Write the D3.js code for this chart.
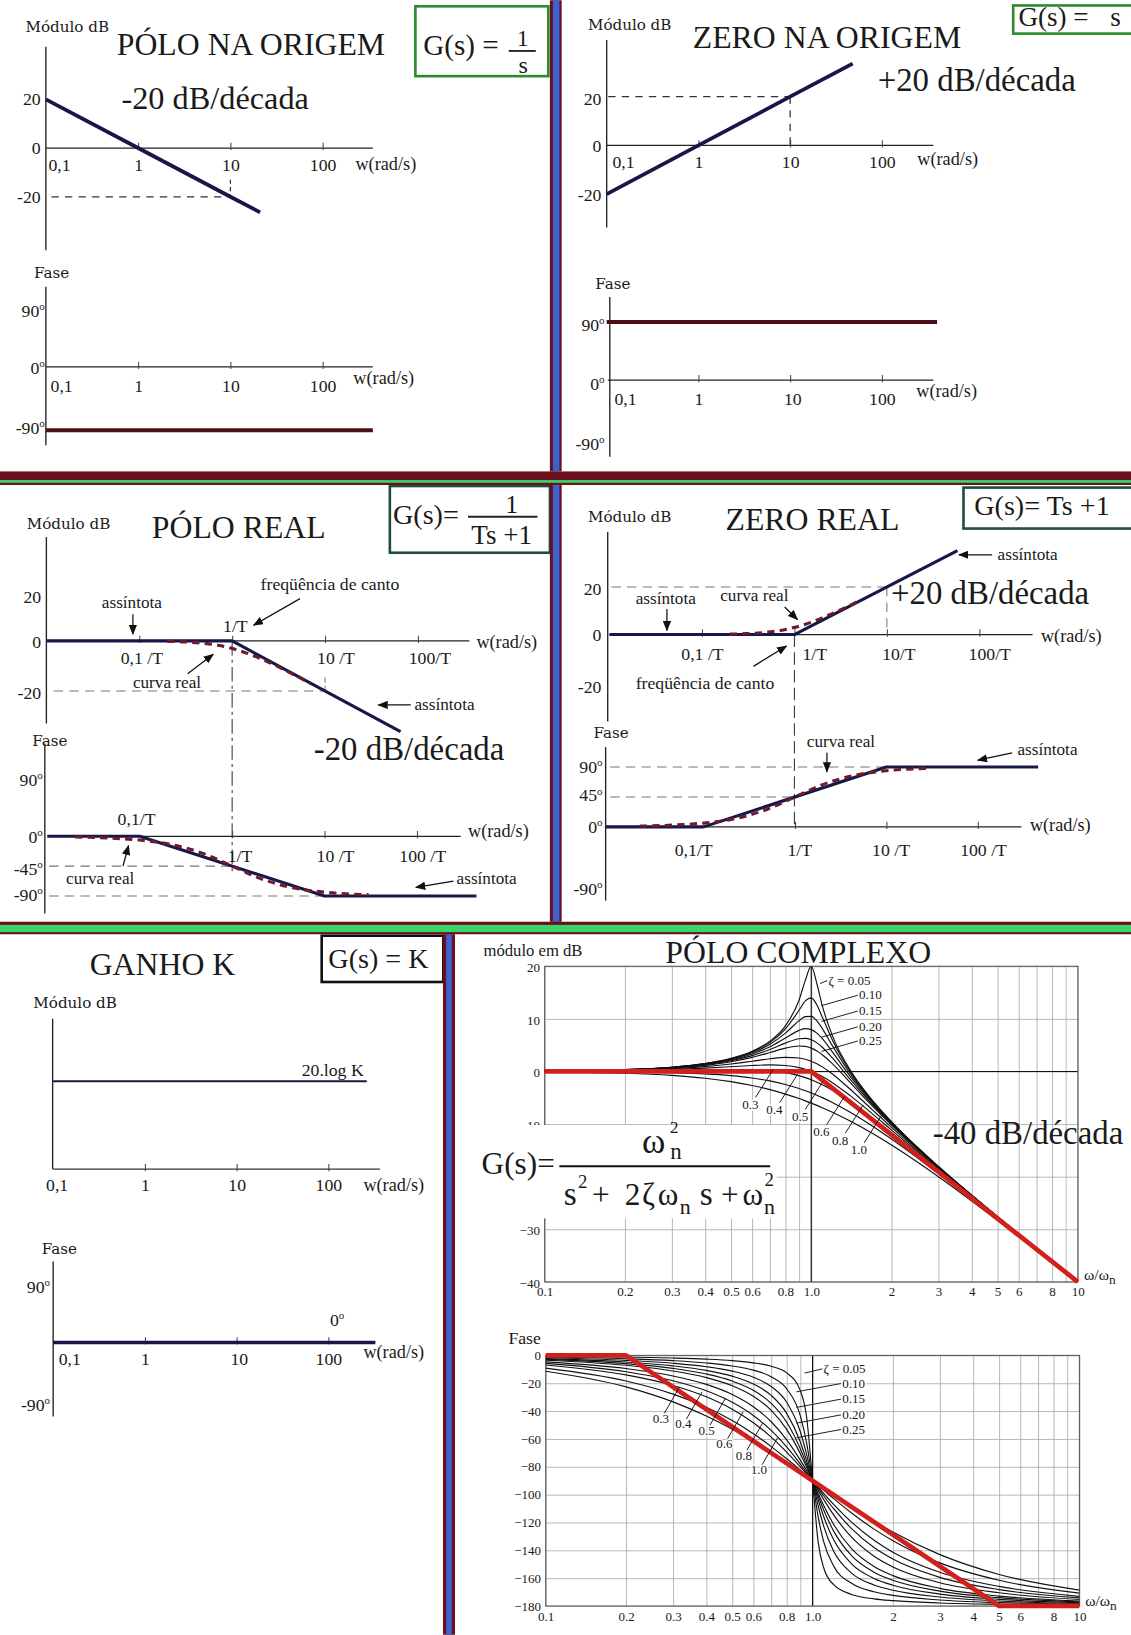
<!DOCTYPE html>
<html lang="pt">
<head>
<meta charset="utf-8">
<title>Diagramas de Bode – fatores básicos</title>
<script src="https://cdn.jsdelivr.net/npm/d3@7/dist/d3.min.js"></script>
<style>
  html, body { margin: 0; padding: 0; background: #fff; }
  svg { display: block; }
  text { font-family: "Liberation Serif", "Times New Roman", serif; fill: #1a1a1a; }
  text.sm { font-family: "DejaVu Serif", serif; }
</style>
</head>
<body>
<svg id="bode"></svg>
<script>
// ================= data =================
const decades = [0.1, 1, 10, 100];
const decadeLabels = ["0,1", "1", "10", "100"];

// pole at the origin, G(s) = 1/s
const poleOriginW = [0.1, 1, 10, 21];
const poleOriginDb = [20, 0, -20, -26.4];
const poleOriginPhaseW = [0.1, 350];
const poleOriginPhase = [-90, -90];

// zero at the origin, G(s) = s
const zeroOriginW = [0.1, 1, 10, 48];
const zeroOriginDb = [-20, 0, 20, 33.6];
const zeroOriginPhaseW = [0.1, 400];
const zeroOriginPhase = [90, 90];

// real pole, G(s) = 1/(Ts+1), frequency in units of 1/T
const realPoleAsymW = [0.01, 1, 65];
const realPoleAsymDb = [0, 0, -36.3];
const realPoleW = [0.2, 0.3, 0.5, 0.7, 1, 1.5, 2, 3, 5, 7];
const realPoleDb = [-0.17, -0.37, -0.97, -1.73, -3.01, -5.12, -6.99, -10, -14.15, -16.99];
const realPolePhAsymW = [0.01, 0.1, 10, 440];
const realPolePhAsym = [0, 0, -90, -90];
const realPhaseW = [0.02, 0.05, 0.1, 0.2, 0.5, 1, 2, 5, 10, 30];
const realPolePhase = [-1.15, -2.86, -5.71, -11.31, -26.57, -45, -63.43, -78.69, -84.29, -88.09];

// real zero, G(s) = Ts+1
const realZeroAsymW = [0.01, 1, 58];
const realZeroAsymDb = [0, 0, 35.27];
const realZeroW = [0.2, 0.3, 0.5, 0.7, 1, 1.5, 2, 3, 5];
const realZeroDb = [0.17, 0.37, 0.97, 1.73, 3.01, 5.12, 6.99, 10, 14.15];
const realZeroPhAsymW = [0.0085, 0.1, 10, 458];
const realZeroPhAsym = [0, 0, 90, 90];
const realZeroPhase = [1.15, 2.86, 5.71, 11.31, 26.57, 45, 63.43, 78.69, 84.29, 88.09];

// constant gain, G(s) = K (level in units of 20·log K)
const gainW = [0.1, 262];
const gainLevel = [1, 1];
const gainPhaseW = [0.1, 325];
const gainPhase = [0, 0];

// complex pole pair: frequency ratio ω/ωn and one curve per damping ratio
const ratio = [0.1, 0.2, 0.3, 0.4, 0.5, 0.6, 0.7, 0.8, 0.9, 0.95, 1.0, 1.05, 1.1, 1.2, 1.4, 1.7, 2, 3, 5, 10];
const zetas = [0.05, 0.10, 0.15, 0.20, 0.25, 0.3, 0.4, 0.5, 0.6, 0.8, 1.0];
const magDb = [
  [0.09, 0.35, 0.81, 1.50, 2.48, 3.84, 5.77, 8.67, 13.55, 17.32, 20.00, 16.67, 12.50, 6.82, 0.26, -5.56, -9.56, -18.07, -27.61, -39.91],
  [0.09, 0.35, 0.80, 1.48, 2.42, 3.73, 5.53, 8.09, 11.64, 13.41, 13.98, 12.63, 10.34, 6.00, 0.00, -5.67, -9.62, -18.09, -27.61, -39.91],
  [0.08, 0.34, 0.78, 1.43, 2.33, 3.55, 5.17, 7.28, 9.63, 10.42, 10.46, 9.60, 8.15, 4.91, -0.41, -5.83, -9.71, -18.12, -27.62, -39.92],
  [0.08, 0.32, 0.74, 1.36, 2.20, 3.31, 4.70, 6.35, 7.81, 8.13, 7.96, 7.28, 6.24, 3.73, -0.92, -6.06, -9.84, -18.16, -27.63, -39.92],
  [0.08, 0.31, 0.70, 1.28, 2.04, 3.01, 4.17, 5.38, 6.22, 6.29, 6.02, 5.43, 4.60, 2.57, -1.50, -6.33, -10.00, -18.21, -27.65, -39.92],
  [0.07, 0.29, 0.65, 1.17, 1.85, 2.68, 3.60, 4.44, 4.85, 4.76, 4.44, 3.90, 3.19, 1.48, -2.11, -6.64, -10.19, -18.28, -27.67, -39.93],
  [0.06, 0.24, 0.53, 0.93, 1.41, 1.94, 2.41, 2.68, 2.56, 2.31, 1.94, 1.45, 0.87, -0.47, -3.38, -7.34, -10.63, -18.44, -27.72, -39.94],
  [0.04, 0.17, 0.37, 0.63, 0.90, 1.14, 1.25, 1.14, 0.73, 0.40, 0.00, -0.46, -0.98, -2.13, -4.60, -8.10, -11.14, -18.63, -27.79, -39.96],
  [0.02, 0.09, 0.19, 0.29, 0.35, 0.33, 0.15, -0.22, -0.80, -1.17, -1.58, -2.04, -2.52, -3.56, -5.73, -8.88, -11.69, -18.86, -27.87, -39.98],
  [-0.02, -0.10, -0.25, -0.47, -0.80, -1.24, -1.80, -2.48, -3.24, -3.66, -4.08, -4.52, -4.97, -5.89, -7.74, -10.40, -12.84, -19.40, -28.06, -40.03],
  [-0.09, -0.34, -0.75, -1.29, -1.94, -2.67, -3.46, -4.30, -5.15, -5.59, -6.02, -6.45, -6.89, -7.75, -9.43, -11.80, -13.98, -20.00, -28.30, -40.09]
];
const phaseDeg = [
  [-0.58, -1.19, -1.89, -2.73, -3.81, -5.36, -7.82, -12.53, -25.35, -44.26, -90, -134.31, -152.35, -164.74, -171.70, -174.86, -176.19, -177.85, -178.81, -179.42],
  [-1.16, -2.39, -3.77, -5.44, -7.59, -10.62, -15.35, -23.96, -43.45, -62.84, -90, -116.02, -133.67, -151.39, -163.74, -169.80, -172.41, -175.71, -177.61, -178.84],
  [-1.74, -3.58, -5.65, -8.13, -11.31, -15.71, -22.38, -33.69, -54.87, -71.11, -90, -108.02, -122.47, -140.71, -156.37, -164.90, -168.69, -173.58, -176.42, -178.26],
  [-2.31, -4.76, -7.51, -10.78, -14.93, -20.56, -28.77, -41.63, -62.18, -75.61, -90, -103.71, -115.52, -132.51, -149.74, -160.21, -165.07, -171.47, -175.24, -177.69],
  [-2.89, -5.95, -9.36, -13.39, -18.43, -25.11, -34.46, -48.01, -67.11, -78.40, -90, -101.05, -110.90, -126.25, -143.90, -155.79, -161.57, -169.38, -174.05, -177.11],
  [-3.47, -7.13, -11.19, -15.95, -21.80, -29.36, -39.47, -53.13, -70.62, -80.29, -90, -99.24, -107.65, -121.43, -138.81, -151.64, -158.20, -167.32, -172.88, -176.53],
  [-4.62, -9.46, -14.77, -20.85, -28.07, -36.87, -47.68, -60.64, -75.22, -82.69, -90, -96.96, -103.42, -114.62, -130.60, -144.26, -151.93, -163.30, -170.54, -175.38],
  [-5.77, -11.77, -18.25, -25.46, -33.69, -43.15, -53.92, -65.77, -78.08, -84.14, -90, -95.58, -100.81, -110.14, -124.44, -138.03, -146.31, -159.44, -168.23, -174.23],
  [-6.91, -14.04, -21.59, -29.74, -38.66, -48.37, -58.73, -69.44, -80.02, -85.11, -90, -94.65, -99.04, -106.99, -119.74, -132.81, -141.34, -155.77, -165.96, -173.09],
  [-9.18, -18.43, -27.81, -37.30, -46.85, -56.31, -65.52, -74.29, -82.48, -86.33, -90, -93.49, -96.80, -102.91, -113.20, -124.79, -133.15, -149.04, -161.57, -170.82],
  [-11.42, -22.62, -33.40, -43.60, -53.13, -61.93, -70.00, -77.32, -83.97, -87.06, -90, -92.79, -95.45, -100.39, -108.92, -119.07, -126.87, -143.13, -157.38, -168.58]
];
const cpAsymMagW = [0.1, 1, 10];
const cpAsymMag = [0, 0, -40];
const cpAsymPhW = [0.1, 0.2, 5, 10];
const cpAsymPh = [0, 0, -180, -180];
const gridRatios = [0.1, 0.2, 0.3, 0.4, 0.5, 0.6, 0.7, 0.8, 0.9, 1, 2, 3, 4, 5, 6, 7, 8, 9, 10];
const ratioTicks = [0.1, 0.2, 0.3, 0.4, 0.5, 0.6, 0.8, 1, 2, 3, 4, 5, 6, 8, 10];
const ratioTickLabels = ["0.1", "0.2", "0.3", "0.4", "0.5", "0.6", "0.8", "1.0", "2", "3", "4", "5", "6", "8", "10"];
const magTicks = [20, 10, 0, -10, -20, -30, -40];
// the −20 dB label sits under the transfer-function patch, so it is left blank
const magTickLabels = ["20", "10", "0", "\u221210", "", "\u221230", "\u221240"];
const phaseTicks = [0, -20, -40, -60, -80, -100, -120, -140, -160, -180];
const phaseTickLabels = ["0", "\u221220", "\u221240", "\u221260", "\u221280", "\u2212100", "\u2212120", "\u2212140", "\u2212160", "\u2212180"];
// label anchors (ratio, value) for the damping-ratio annotations
const zetaTopMag = [[1.16, 16.5], [1.51, 13.7], [1.51, 10.7], [1.51, 7.7], [1.51, 5.0]];
const zetaLowMag = [[0.591, -7.1], [0.728, -8.1], [0.908, -9.4], [1.092, -12.3], [1.284, -13.9], [1.51, -15.75]];
const zetaTopPh = [[1.099, -12.7], [1.292, -23.2], [1.292, -34.4], [1.292, -45.7], [1.292, -56.2]];
const zetaLowPh = [[0.2702, -48.7], [0.3279, -52.4], [0.4014, -56.9], [0.4676, -66.6], [0.5525, -74.9], [0.6293, -85.4]];

// ================= drawing helpers =================
const W = 1085, H = 1568;
const svg = d3.select("#bode").attr("width", 1131).attr("height", 1635).attr("viewBox", `0 0 ${W} ${H}`);
svg.append("rect").attr("width", W).attr("height", H).attr("fill", "#fff");
const defs = svg.append("defs");
defs.append("marker").attr("id", "ah").attr("viewBox", "0 0 10 8").attr("refX", 9).attr("refY", 4)
  .attr("markerWidth", 10).attr("markerHeight", 8).attr("markerUnits", "userSpaceOnUse").attr("orient", "auto")
  .append("path").attr("d", "M0,0L10,4L0,8Z").attr("fill", "#111");

const NAVY = "#17174a", WINE = "#4b0f18", DASHRED = "#6e1a2a", INK = "#222", RED = "#d3201c";

function text(g, x, y, s, size, o = {}) {
  const t = g.append("text").attr("x", x).attr("y", y).attr("font-size", size).text(s);
  if (o.anchor) t.attr("text-anchor", o.anchor);
  if (o.cls) t.attr("class", o.cls);
  if (o.halo) t.attr("stroke", "#fff").attr("stroke-width", o.halo).attr("paint-order", "stroke");
  return t;
}
// one text element made of absolutely placed pieces: [string, x, y, size]
function pieces(g, parts) {
  const t = g.append("text");
  parts.forEach(p => t.append("tspan").attr("x", p[1]).attr("y", p[2]).attr("font-size", p[3]).text(p[0]));
  return t;
}
function seg(g, x1, y1, x2, y2, stroke, sw, dash) {
  return g.append("line").attr("x1", x1).attr("y1", y1).attr("x2", x2).attr("y2", y2)
    .attr("stroke", stroke).attr("stroke-width", sw).attr("stroke-dasharray", dash || null);
}
function arrow(g, x1, y1, x2, y2) {
  return seg(g, x1, y1, x2, y2, "#111", 1.2).attr("marker-end", "url(#ah)");
}
function rectBox(g, x, y, w, h, stroke, sw = 2.5) {
  return g.append("rect").attr("x", x).attr("y", y).attr("width", w).attr("height", h)
    .attr("fill", "#fff").attr("stroke", stroke).attr("stroke-width", sw);
}
function series(g, xs, ys, sx, sy, stroke, sw, o = {}) {
  const gen = d3.line().x(d => sx(d[0])).y(d => sy(d[1])).curve(o.curve || d3.curveLinear);
  return g.append("path").datum(xs.map((v, i) => [v, ys[i]])).attr("d", gen)
    .attr("fill", "none").attr("stroke", stroke).attr("stroke-width", sw)
    .attr("stroke-dasharray", o.dash || null).attr("stroke-linejoin", "round").attr("stroke-linecap", o.cap || "butt");
}
function xAxis(g, sx, y, o) {
  seg(g, sx(o.from), y, sx(o.to), y, o.stroke || INK, o.sw || 1.2);
  const ax = d3.axisBottom(sx).tickValues(o.ticks).tickFormat((d, i) => o.labels[i])
    .tickSizeInner(-(o.tick ?? 5)).tickSizeOuter(0).tickPadding(o.pad);
  const a = g.append("g").attr("transform", `translate(0,${y})`).call(ax);
  a.select(".domain").remove();
  a.attr("font-family", null).attr("font-size", o.size || 17);
  a.selectAll(".tick line").attr("y1", 2).attr("stroke", "#444").attr("stroke-width", 1);
  a.selectAll(".tick text").attr("dx", (d, i) => (o.dx ? o.dx[i] : 0));
  if (o.startFirst) a.selectAll(".tick text").filter((d, i) => i === 0).attr("text-anchor", "start");
  if (o.noTick) a.selectAll(".tick line").filter((d, i) => o.noTick.includes(i)).remove();
  return a;
}
function yLabels(g, sy, x, vals, labels, o = {}) {
  const ax = d3.axisLeft(sy).tickValues(vals).tickFormat((d, i) => labels[i]).tickSize(0).tickPadding(o.pad ?? 5);
  const a = g.append("g").attr("transform", `translate(${x},0)`).call(ax);
  a.select(".domain").remove();
  a.selectAll(".tick line").remove();
  a.selectAll(".tick").filter((d, i) => labels[i] === "").remove();
  a.attr("font-family", null).attr("font-size", o.size || 17);
  if (o.dy) a.selectAll(".tick text").attr("y", (d, i) => o.dy[i]);
  return a;
}
function degLabels(g, sy, xr, vals, dy, size = 17) {
  vals.forEach((v, i) => {
    const t = g.append("text").attr("x", xr).attr("y", sy(v) + dy[i] + size * 0.34)
      .attr("font-size", size).attr("text-anchor", "end");
    t.append("tspan").text(v > 0 ? String(v) : v < 0 ? "-" + Math.abs(v) : "0");
    t.append("tspan").text("o").attr("font-size", "0.62em").attr("dy", "-0.62em");
  });
}

// ================= pole at the origin =================
(function () {
  const g = svg.append("g");
  const x = d3.scaleLog().domain([0.1, 100]).range([44, 309.5]);
  const y = d3.scaleLinear().domain([-20, 20]).range([188.5, 95]);
  text(g, 24.5, 30.5, "Módulo dB", 14.5, { cls: "sm" });
  text(g, 112, 52.8, "PÓLO NA ORIGEM", 30.5);
  text(g, 116.5, 104, "-20 dB/década", 31);
  rectBox(g, 398.5, 5.8, 127.5, 67, "#2b8a2b");
  pieces(g, [["G(s) =", 406, 52.8, 28], ["1", 496, 44, 22], ["s", 497.5, 70, 23]]);
  seg(g, 488, 48.6, 514, 48.6, INK, 1.8);

  seg(g, 44, y(41.6), 44, y(-42), INK, 1.3);
  xAxis(g, x, y(0), { from: 0.1, to: 350, ticks: decades, labels: decadeLabels, pad: 10, dx: [2, 0, 0, 0], startFirst: true, noTick: [0] });
  text(g, 341, 163, "w(rad/s)", 17.5);
  yLabels(g, y, 44, [20, 0, -20], ["20", "0", "-20"], { pad: 5 });
  seg(g, x(0.115), y(-20), x(10), y(-20), "#333", 1.2, "7,6");
  seg(g, x(10), y(-13), x(10), y(-20), "#333", 1.2, "4,3");
  series(g, poleOriginW, poleOriginDb, x, y, NAVY, 3.6);

  const p = d3.scaleLinear().domain([-90, 0]).range([412.5, 351.8]);
  text(g, 32.6, 266, "Fase", 14.5, { cls: "sm" });
  seg(g, 44, p(114), 44, p(-111.5), INK, 1.3);
  xAxis(g, x, p(0), { from: 0.1, to: 350, ticks: decades, labels: decadeLabels, pad: 12, dx: [4, 0, 0, 0], startFirst: true, noTick: [0] });
  text(g, 339, 368.5, "w(rad/s)", 17.5);
  degLabels(g, p, 43, [90, 0, -90], [7, 1.2, -1.9]);
  series(g, poleOriginPhaseW, poleOriginPhase, x, p, WINE, 3.8);
})();

// ================= zero at the origin =================
(function () {
  const g = svg.append("g");
  const x = d3.scaleLog().domain([0.1, 100]).range([582, 846]);
  const y = d3.scaleLinear().domain([-20, 20]).range([186, 92.5]);
  text(g, 564, 29, "Módulo dB", 14.5, { cls: "sm" });
  text(g, 664.6, 46, "ZERO NA ORIGEM", 30.5);
  text(g, 842, 87, "+20 dB/década", 31.5);
  rectBox(g, 972, 5, 125, 27, "#2b8a2b");
  pieces(g, [["G(s) =", 977, 25, 26], ["s", 1065, 25, 26]]);

  seg(g, 582, y(43.3), 582, y(-33.7), INK, 1.3);
  xAxis(g, x, y(0), { from: 0.1, to: 364, ticks: decades, labels: decadeLabels, pad: 9.8, dx: [5, 0, 0, 0], startFirst: true, noTick: [0] });
  text(g, 880, 158, "w(rad/s)", 17.5);
  yLabels(g, y, 582, [20, 0, -20], ["20", "0", "-20"], { pad: 5, dy: [1.8, 0, 1] });
  seg(g, x(0.104), y(20), x(10), y(20), "#333", 1.2, "7,6");
  seg(g, x(10), y(20), x(10), y(0), "#333", 1.2, "7,6");
  series(g, zeroOriginW, zeroOriginDb, x, y, NAVY, 3.6);

  const p = d3.scaleLinear().domain([-90, 90]).range([420.4, 308.6]);
  text(g, 571, 277, "Fase", 14.5, { cls: "sm" });
  seg(g, 585, p(128.6), 585, p(-118.3), INK, 1.3);
  xAxis(g, x, p(0), { from: 0.103, to: 364, ticks: decades, labels: decadeLabels, pad: 11.5, dx: [7, 0, 2, 0], startFirst: true, noTick: [0] });
  text(g, 879, 380.5, "w(rad/s)", 17.5);
  degLabels(g, p, 580, [90, 0, -90], [3.2, 3.2, 5]);
  series(g, zeroOriginPhaseW, zeroOriginPhase, x, p, WINE, 3.8);
})();

// ================= real pole =================
(function () {
  const g = svg.append("g");
  const x = d3.scaleLog().domain([0.1, 100]).range([133.6, 400.9]);
  const y = d3.scaleLinear().domain([-20, 20]).range([662.6, 566.6]);
  text(g, 25.7, 507, "Módulo dB", 14.5, { cls: "sm" });
  text(g, 145.6, 516, "PÓLO REAL", 30.5);
  rectBox(g, 374, 466, 153.6, 64, "#1e4d3d");
  pieces(g, [["G(s)=", 377, 502, 27], ["1", 485, 492, 24], ["Ts +1", 452.2, 521.5, 26]]);
  seg(g, 449, 495.5, 515.6, 495.5, INK, 1.8);

  seg(g, 44.5, y(41.5), 44.5, y(-33), INK, 1.3);
  xAxis(g, x, y(0), { from: 0.01, to: 358, ticks: decades, labels: ["0,1 /T", "", "10 /T", "100/T"], pad: 10.5, dx: [2, 0, 10, 11] });
  text(g, 457, 621, "w(rad/s)", 17.5);
  yLabels(g, y, 44.5, [20, 0, -20], ["20", "0", "-20"], { pad: 5, dy: [5.8, 1, 1.9] });
  // guides
  seg(g, x(0.012), y(-20), x(10), y(-20), "#777", 1, "9,6");
  seg(g, x(10), y(-14.6), x(10), y(-20), "#777", 1, "5,3");
  seg(g, x(1), y(0), x(1), 837, "#333", 1, "14,4,3,4");
  series(g, realPoleAsymW, realPoleAsymDb, x, y, NAVY, 3);
  series(g, realPoleW, realPoleDb, x, y, DASHRED, 3, { dash: "7,5", curve: d3.curveMonotoneX });
  // notes
  text(g, 214, 606, "1/T", 17);
  text(g, 250, 566, "freqüência de canto", 17);
  arrow(g, 287.8, 574, 243.3, 599.6);
  text(g, 97.7, 583, "assíntota", 16.5);
  arrow(g, 127.5, 589, 127.5, 608);
  text(g, 127.5, 660, "curva real", 16.5);
  arrow(g, 180, 646, 204.5, 627.5);
  text(g, 397.6, 681, "assíntota", 16.5);
  arrow(g, 394, 676, 363, 676);
  text(g, 301, 729, "-20 dB/década", 31.5);

  const xp = d3.scaleLog().domain([0.1, 100]).range([134, 400]);
  const p = d3.scaleLinear().domain([-90, 0]).range([859.3, 802]);
  text(g, 31, 715, "Fase", 14.5, { cls: "sm" });
  seg(g, 43, p(139.8), 43, p(-116.2), INK, 1.3);
  xAxis(g, xp, p(0), { from: 0.0105, to: 297, ticks: [1, 10, 100], labels: ["1/T", "10 /T", "100 /T"], pad: 13, dx: [7, 10, 5] });
  text(g, 131, 791, "0,1/T", 17, { anchor: "middle" });
  text(g, 449, 802.5, "w(rad/s)", 17.5);
  degLabels(g, p, 41, [90, 0, -45, -90], [3.6, 0.6, 2.4, -0.7]);
  seg(g, xp(0.0105), p(-45), xp(1), p(-45), "#777", 1, "9,6");
  seg(g, xp(0.0105), p(-90), xp(10), p(-90), "#777", 1, "9,6");
  series(g, realPolePhAsymW, realPolePhAsym, xp, p, NAVY, 3);
  series(g, realPhaseW, realPolePhase, xp, p, DASHRED, 3, { dash: "7,5", curve: d3.curveMonotoneX });
  text(g, 63.4, 847.5, "curva real", 16.5);
  arrow(g, 118, 830.5, 123.3, 811);
  text(g, 438, 847.5, "assíntota", 16.5);
  arrow(g, 435, 845, 399, 851);
})();

// ================= real zero =================
(function () {
  const g = svg.append("g");
  const x = d3.scaleLog().domain([0.1, 100]).range([673.4, 939.5]);
  const y = d3.scaleLinear().domain([-20, 20]).range([654.2, 562.8]);
  text(g, 564, 500.5, "Módulo dB", 14.5, { cls: "sm" });
  text(g, 696, 508.5, "ZERO REAL", 30.5);
  rectBox(g, 924.3, 467.5, 170, 39.3, "#1e4d3d");
  text(g, 934.6, 494, "G(s)= Ts +1", 27);

  seg(g, 583, y(43.1), 583, y(-36.5), INK, 1.3);
  xAxis(g, x, y(0), { from: 0.01, to: 377, ticks: decades, labels: ["0,1 /T", "1/T", "10/T", "100/T"], pad: 12.5, dx: [0, 19, 11, 9.5] });
  text(g, 998.6, 616, "w(rad/s)", 17.5);
  yLabels(g, y, 583, [20, 0, -20], ["20", "0", "-20"], { pad: 6, dy: [1.6, 0.7, 4.5] });
  seg(g, x(0.0105), y(20), x(10), y(20), "#777", 1, "9,6");
  seg(g, x(10), y(20), x(10), y(0), "#777", 1, "9,6");
  seg(g, x(1), y(0), x(1), 793, "#333", 1, "12,5");
  series(g, realZeroAsymW, realZeroAsymDb, x, y, NAVY, 3);
  series(g, realZeroW, realZeroDb, x, y, DASHRED, 3, { dash: "7,5", curve: d3.curveMonotoneX });
  text(g, 609.8, 579, "assíntota", 16.5);
  arrow(g, 639.8, 584, 639.8, 604.5);
  text(g, 690.9, 576, "curva real", 16.5);
  arrow(g, 752.7, 582, 765, 594);
  text(g, 854.8, 579, "+20 dB/década", 31.5);
  text(g, 957, 537, "assíntota", 16.5);
  arrow(g, 951.8, 532, 920, 532);
  text(g, 609.8, 661, "freqüência de canto", 17);
  arrow(g, 722.8, 639, 754.5, 619.5);

  const xp = d3.scaleLog().domain([0.1, 100]).range([675, 938]);
  const p = d3.scaleLinear().domain([0, 90]).range([793, 735.5]);
  text(g, 569.4, 708, "Fase", 14.5, { cls: "sm" });
  seg(g, 581, p(119.7), 581, p(-110.7), INK, 1.3);
  xAxis(g, xp, p(0), { from: 0.0085, to: 301, ticks: decades, labels: ["0,1/T", "1/T", "10 /T", "100 /T"], pad: 16, dx: [-10, 4, 4, 5], noTick: [0] });
  text(g, 988, 796.5, "w(rad/s)", 17.5);
  degLabels(g, p, 578, [90, 45, 0, -90], [0, -1.5, 0, 1.7]);
  seg(g, xp(0.0095), p(90), xp(10), p(90), "#777", 1, "9,6");
  seg(g, xp(0.0095), p(45), xp(1), p(45), "#777", 1, "9,6");
  series(g, realZeroPhAsymW, realZeroPhAsym, xp, p, NAVY, 3);
  series(g, realPhaseW, realZeroPhase, xp, p, DASHRED, 3, { dash: "7,5", curve: d3.curveMonotoneX });
  text(g, 774, 716, "curva real", 16.5);
  arrow(g, 793.3, 722, 793.3, 740);
  text(g, 976, 724.5, "assíntota", 16.5);
  arrow(g, 971, 722, 938, 729);
})();

// ================= gain K =================
(function () {
  const g = svg.append("g");
  const x = d3.scaleLog().domain([1, 100]).range([139, 315]);
  const y = d3.scaleLinear().domain([0, 1]).range([1121.4, 1037]);
  text(g, 86, 935, "GANHO K", 30.5);
  rectBox(g, 308.6, 897.4, 116.7, 44.4, "#111");
  text(g, 315, 928.5, "G(s) = K", 27);
  text(g, 32, 967, "Módulo dB", 14.5, { cls: "sm" });
  seg(g, 50.5, y(1.71), 50.5, y(0), INK, 1.3);
  xAxis(g, x, y(0), { from: 0.1, to: 365, ticks: decades, labels: decadeLabels, pad: 8.6, dx: [3.3, 0, 0, 0], noTick: [0], stroke: "#333" });
  text(g, 348.6, 1142, "w(rad/s)", 17.5);
  series(g, gainW, gainLevel, x, y, NAVY, 2);
  text(g, 289.4, 1032, "20.log K", 17);

  const p = d3.scaleLinear().domain([-90, 90]).range([1344.6, 1230.6]);
  text(g, 40, 1203, "Fase", 14.5, { cls: "sm" });
  seg(g, 51, p(122.5), 51, p(-112.1), INK, 1.3);
  xAxis(g, x, p(0), { from: 0.1, to: 325, ticks: decades, labels: decadeLabels, pad: 9.4, dx: [15.5, 0, 2, 0], noTick: [0] });
  series(g, gainPhaseW, gainPhase, x, p, NAVY, 3.4);
  text(g, 348.6, 1303, "w(rad/s)", 17.5);
  degLabels(g, p, 48, [90, -90], [3.9, 3]);
  const z = g.append("text").attr("x", 316.5).attr("y", 1272).attr("font-size", 17);
  z.append("tspan").text("0");
  z.append("tspan").text("o").attr("font-size", "0.62em").attr("dy", "-0.62em");
})();

// ================= complex pole pair =================
function complexPlot(g, x, y, ticks, tickLabels, curves, asymW, asymV, clipId, o) {
  const [x0, x1] = x.range();
  const [yb, yt] = y.range();
  const gv = g.append("g").attr("transform", `translate(0,${yb})`)
    .call(d3.axisBottom(x).tickValues(gridRatios).tickSize(-(yb - yt)).tickFormat(""));
  gv.select(".domain").remove();
  gv.selectAll("line").attr("stroke", "#a9a9a9").attr("stroke-width", 0.8);
  const gh = g.append("g").attr("transform", `translate(${x0},0)`)
    .call(d3.axisLeft(y).tickValues(ticks).tickSize(-(x1 - x0)).tickFormat(""));
  gh.select(".domain").remove();
  gh.selectAll("line").attr("stroke", "#a9a9a9").attr("stroke-width", 0.8);
  if (o.zeroLine) seg(g, x0, y(0), x1, y(0), "#111", 1.1);
  seg(g, x(1), yt, x(1), yb, "#111", 1.1);
  g.append("rect").attr("x", x0).attr("y", yt).attr("width", x1 - x0).attr("height", yb - yt)
    .attr("fill", "none").attr("stroke", "#555").attr("stroke-width", 1);
  // tick labels
  const bx = g.append("g").attr("transform", `translate(0,${yb})`)
    .call(d3.axisBottom(x).tickValues(ratioTicks).tickFormat((d, i) => ratioTickLabels[i]).tickSize(0).tickPadding(o.xpad));
  bx.select(".domain").remove();
  bx.attr("font-family", null).attr("font-size", 12.5);
  yLabels(g, y, x0, ticks, tickLabels, { pad: 4.5, size: 12.5, dy: ticks.map(() => o.ydy || 0) });
  // curves
  defs.append("clipPath").attr("id", clipId).append("rect")
    .attr("x", x0).attr("y", yt).attr("width", x1 - x0).attr("height", yb - yt);
  const cg = g.append("g").attr("clip-path", `url(#${clipId})`);
  curves.forEach(vals => series(cg, ratio, vals, x, y, "#111", 1.1, { curve: d3.curveMonotoneX }));
  series(g, asymW, asymV, x, y, RED, 4.5);
  const w = g.append("text").attr("x", o.wx).attr("y", o.wy).attr("font-size", 15);
  w.append("tspan").text("ω/ω");
  w.append("tspan").text("n").attr("font-size", "0.85em").attr("dy", "0.3em");
}
function zetaNotes(g, x, y, top, low, topLead, lowLead) {
  top.forEach((a, i) => {
    const px = x(a[0]), py = y(a[1]);
    const L = topLead[i];
    seg(g, px - 1, py - 4, px - L[0], py + L[1], "#111", 0.9);
    text(g, px, py, i === 0 ? "ζ = 0.05" : zetas[i].toFixed(2), 12.5, { halo: 3 });
  });
  low.forEach((a, i) => {
    const px = x(a[0]), py = y(a[1]);
    seg(g, px + lowLead[0], py - lowLead[1], px + lowLead[2], py - lowLead[3], "#111", 0.9);
    text(g, px, py, zetas[i + 5].toFixed(1), 12.5, { anchor: "middle", halo: 3 });
  });
}
(function () {
  const g = svg.append("g");
  const x = d3.scaleLog().domain([0.1, 10]).range([522.5, 1034]);
  const y = d3.scaleLinear().domain([-40, 20]).range([1229.5, 926.7]);
  text(g, 463.8, 916.5, "módulo em dB", 16);
  text(g, 638.3, 923.5, "PÓLO COMPLEXO", 30.5);
  complexPlot(g, x, y, magTicks, magTickLabels, magDb, cpAsymMagW, cpAsymMag, "clipMag",
    { zeroLine: true, xpad: 4.5, wx: 1040, wy: 1228, ydy: 1 });
  zetaNotes(g, x, y, zetaTopMag, zetaLowMag,
    [[8, -1], [36, 6], [36, 6], [36, 6], [36, 6]], [5, 11, 22, 38]);
  text(g, 894.8, 1097, "-40 dB/década", 31.5);
  // transfer function, written over a white patch
  g.append("rect").attr("x", 441).attr("y", 1079).attr("width", 304).attr("height", 89.6).attr("fill", "#fff");
  text(g, 462, 1126, "G(s)=", 30);
  seg(g, 536.6, 1118.6, 738.9, 1118.6, "#111", 2);
  pieces(g, [["ω", 616, 1106, 34], ["n", 643, 1112, 22], ["2", 642.5, 1087, 17]]);
  pieces(g, [
    ["s", 540.8, 1156, 32], ["2", 554.5, 1139, 18], ["+", 568, 1156, 30], ["2", 599.3, 1156, 30],
    ["ζ", 615.8, 1156, 30], ["ω", 631, 1156, 30], ["n", 652, 1164, 21], ["s", 671.2, 1156, 32],
    ["+", 691.7, 1156, 30], ["ω", 712.2, 1156, 30], ["n", 733, 1164, 21], ["2", 733.5, 1138, 18]
  ]);
})();
(function () {
  const g = svg.append("g");
  const x = d3.scaleLog().domain([0.1, 10]).range([523.5, 1035.5]);
  const y = d3.scaleLinear().domain([-180, 0]).range([1540.4, 1300]);
  text(g, 487.7, 1289.5, "Fase", 17);
  complexPlot(g, x, y, phaseTicks, phaseTickLabels, phaseDeg, cpAsymPhW, cpAsymPh, "clipPh",
    { zeroLine: false, xpad: 6, wx: 1041, wy: 1540, ydy: 0 });
  zetaNotes(g, x, y, zetaTopPh, zetaLowPh,
    [[18, 0], [44, 4], [44, 4], [44, 4], [44, 4]], [3, 9, 18, 35]);
})();

// ================= panel separators =================
(function () {
  const g = svg.append("g");
  const MAROON = "#6a0f1e", BLUE = "#3c62cf", GREEN = "#3ad46b";
  const bar = (x, y, w, h, c) => g.append("rect").attr("x", x).attr("y", y).attr("width", w).attr("height", h).attr("fill", c);
  bar(527.5, 0, 11.3, 452, MAROON); bar(530.4, 0, 6.3, 452, BLUE);
  bar(527.5, 465, 11.3, 419, MAROON); bar(530.4, 465, 6.3, 419, BLUE);
  bar(425, 896, 11.5, 672, MAROON); bar(428, 896, 5.5, 672, BLUE);
  bar(0, 452, W, 13, MAROON); bar(0, 460.3, W, 2.6, GREEN);
  bar(0, 884, W, 12, MAROON); bar(0, 887, W, 7, GREEN);
})();
</script>
</body>
</html>
